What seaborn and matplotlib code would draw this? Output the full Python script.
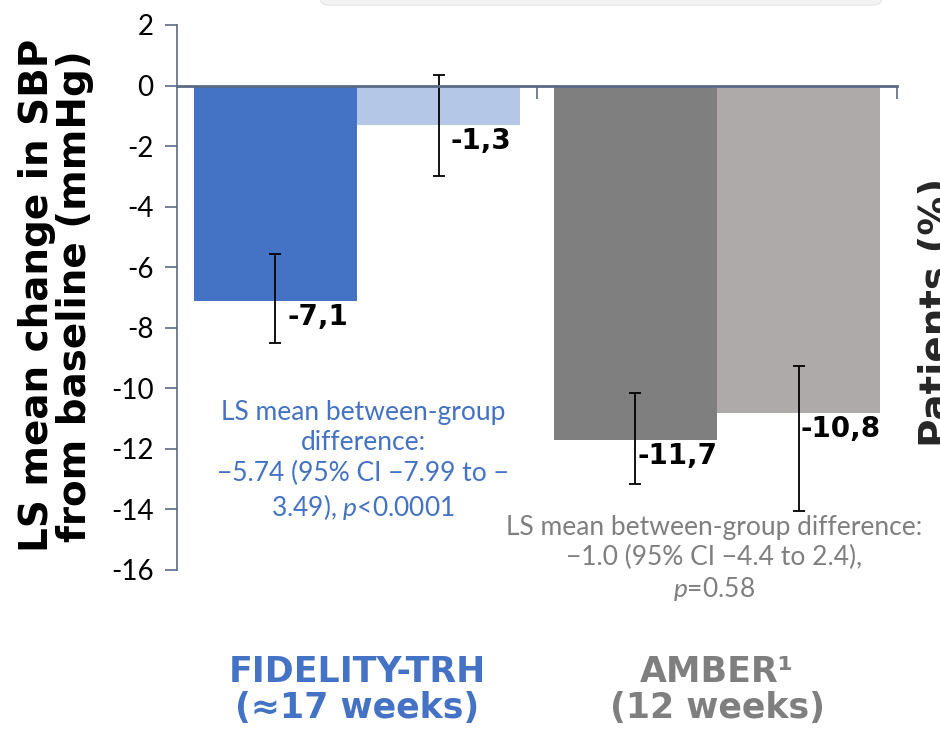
import matplotlib
matplotlib.use("Agg")
import matplotlib.pyplot as plt
import matplotlib.transforms as mtransforms
from matplotlib.patches import FancyBboxPatch
import seaborn as sns
import pandas as pd

sns.set_theme(style="white")
plt.rcParams["font.family"] = ["Lato", "DejaVu Sans"]
plt.rcParams["axes.unicode_minus"] = False
plt.rcParams["mathtext.fontset"] = "custom"
plt.rcParams["mathtext.it"] = "Lato:italic"
plt.rcParams["mathtext.rm"] = "Lato"

# dados
estudos = ["FIDELITY-TRH", "FIDELITY-TRH", "AMBER", "AMBER"]
bracos = ["Ativo", "Placebo", "Ativo", "Placebo"]
valores = [-7.1, -1.3, -11.7, -10.8]
ic_sup = [-5.58, 0.36, -10.17, -9.27]
ic_inf = [-8.51, -3.0, -13.17, -14.06]
rotulos = ["-7,1", "-1,3", "-11,7", "-10,8"]
yticks = list(range(-16, 3, 2))
nomes_grupos = ["FIDELITY-TRH\n(≈17 weeks)", "AMBER¹\n(12 weeks)"]
texto_fid = "LS mean between-group\ndifference:\n−5.74 (95% CI −7.99 to −\n3.49), $p$<0.0001"
texto_amber = "LS mean between-group difference:\n−1.0 (95% CI −4.4 to 2.4),\n$p$=0.58"

cores = ["#4472C4", "#B4C7E7", "#7F7F7F", "#AEAAAA"]
azul = "#4472C4"
cinza = "#7F7F7F"
cor_eixo = "#5a6a85"

df = pd.DataFrame({"estudo": estudos, "braco": bracos, "valor": valores})

fig = plt.figure(figsize=(9.4, 7.3), dpi=100)
ax = fig.add_axes([0.1883, 0.2192, 0.766, 0.7466])

sns.barplot(data=df, x="estudo", y="valor", hue="braco", width=0.906, gap=0,
            errorbar=None, legend=False, saturation=1, ax=ax)

barras = sorted(ax.patches, key=lambda p: p.get_x())
for p, c in zip(barras, cores):
    p.set_facecolor(c)
    p.set_edgecolor("none")

centros = [p.get_x() + p.get_width() / 2 for p in barras]
erro = [[v - lo for v, lo in zip(valores, ic_inf)],
        [hi - v for v, hi in zip(valores, ic_sup)]]
ax.errorbar(centros, valores, yerr=erro, fmt="none", ecolor="black",
            elinewidth=1.3, capsize=4, capthick=1.3, zorder=4)

for cx, v, txt in zip(centros, valores, rotulos):
    ax.annotate(txt, xy=(cx, v), xytext=(42, -16), textcoords="offset pixels",
                ha="center", va="center", fontsize=20, fontweight="bold",
                family="DejaVu Sans", color="black", zorder=5)

# eixos
ax.set_xlim(-0.5, 1.5)
ax.set_ylim(-16, 2)
ax.set_yticks(yticks)
ax.set_xticks([0.5, 1.5])
ax.set_xticklabels([])
ax.set_xlabel("")
ax.spines["top"].set_visible(False)
ax.spines["right"].set_visible(False)
ax.spines["bottom"].set_position(("data", 0))
ax.spines["bottom"].set_color(cor_eixo)
ax.spines["bottom"].set_linewidth(2)
ax.spines["bottom"].set_zorder(6)
ax.spines["left"].set_color(cor_eixo)
ax.spines["left"].set_linewidth(1.2)
ax.tick_params(axis="y", left=True, labelsize=20, length=9, width=1.2,
               color=cor_eixo, pad=8, labelcolor="black")
ax.tick_params(axis="x", bottom=True, length=9, width=1.2, color=cor_eixo)

ax.set_ylabel("LS mean change in SBP\nfrom baseline (mmHg)", fontsize=28,
              fontweight="bold", family="DejaVu Sans", linespacing=1.0,
              color="black")
ax.yaxis.set_label_coords(-0.115, 0.503)

# textos
ax.text(0.017, -12.4, texto_fid, ha="center", va="center", fontsize=19,
        color=azul, linespacing=1.25)
ax.text(0.992, -15.64, texto_amber, ha="center", va="center", fontsize=19,
        color=cinza, linespacing=1.25, clip_on=False)

trans = mtransforms.blended_transform_factory(ax.transData, fig.transFigure)
for i, (nome, c) in enumerate(zip(nomes_grupos, [azul, cinza])):
    ax.text(i, 0.055, nome, transform=trans, ha="center", va="center",
            fontsize=25, fontweight="bold", family="DejaVu Sans", color=c,
            linespacing=1.05)

fig.text(918 / 940, 1 - 447 / 730, "Patients (%)", rotation=90, ha="left",
         va="bottom", fontsize=28, fontweight="bold", family="DejaVu Sans")

caixa = FancyBboxPatch((320 / 940, 0.993), 562 / 940, 0.05,
                       boxstyle="round,pad=0,rounding_size=0.01",
                       transform=fig.transFigure, facecolor="#f3f3f3",
                       edgecolor="#e8e8e8", clip_on=False)
fig.add_artist(caixa)

fig.savefig("out.png", dpi=100)
